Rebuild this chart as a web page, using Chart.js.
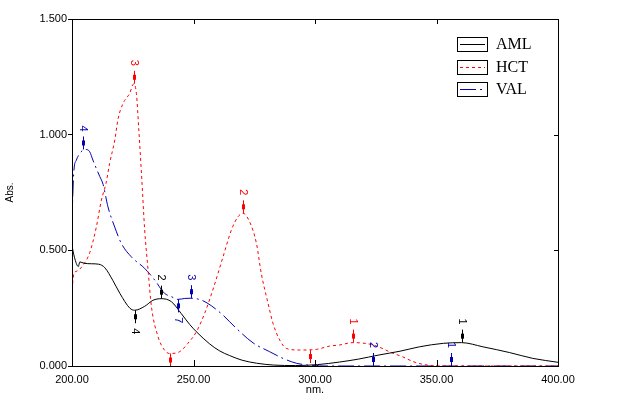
<!DOCTYPE html>
<html>
<head>
<meta charset="utf-8">
<script src="https://cdn.jsdelivr.net/npm/chart.js@4"></script>
<style>
  html, body { margin: 0; padding: 0; background: #fff; }
  #wrap { width: 627px; height: 399px; }
</style>
</head>
<body>
<div id="wrap"><canvas id="chart"></canvas></div>
<script>
// axis ranges
const nmMin = 200, nmMax = 400, nmStep = 50;
const absMin = 0, absMax = 1.5, absStep = 0.5;

// AML (black, solid)
const amlNm = [200, 201, 202.6, 203.2, 205, 208, 211, 213.5, 216.8, 219.7, 223.8, 225.8, 229.9, 233.3, 236.8,
  240.9, 245, 248.4, 251.2, 256.7, 260.8, 264.9, 270, 276, 283, 292, 301, 310, 318, 326, 335, 343, 352.8,
  360.3, 369.1, 380.1, 389.6, 400];
const amlAbs = [0.52, 0.47, 0.43, 0.45, 0.444, 0.442, 0.44, 0.425, 0.37, 0.314, 0.25, 0.241, 0.258, 0.284, 0.291,
  0.278, 0.226, 0.18, 0.148, 0.095, 0.065, 0.045, 0.025, 0.012, 0.004, 0.002, 0.006, 0.017, 0.03, 0.047, 0.064, 0.083, 0.098,
  0.101, 0.083, 0.058, 0.033, 0.016];

// HCT (red, dotted)
const hctNm = [200, 200.8, 202, 204.5, 207.3, 210, 212.1, 214, 215.5, 217.6, 219, 221, 223.7, 225.4, 226.5,
  227.5, 228.6, 229.9, 231.3, 232.7, 235.4, 238.1, 240.2, 244.3, 247.7, 251.2, 254.6, 258.3, 262.1, 265.6,
  268.3, 270.4, 273.1, 275.9, 277.9, 280.7, 282.7, 285.5, 288.2, 293.7, 300.6, 306, 310.2, 315.6, 323.9,
  332.1, 336, 340.4, 345, 352, 400];
const hctAbs = [0.33, 0.40, 0.41, 0.435, 0.49, 0.60, 0.717, 0.79, 0.876, 0.977, 1.07, 1.135, 1.178, 1.22, 1.178,
  1.02, 0.83, 0.59, 0.415, 0.256, 0.127, 0.068, 0.054, 0.062, 0.098, 0.148, 0.228, 0.34, 0.47, 0.588,
  0.645, 0.66, 0.623, 0.53, 0.40, 0.27, 0.185, 0.112, 0.076, 0.069, 0.072, 0.086, 0.091, 0.101, 0.091,
  0.055, 0.04, 0.019, 0.006, 0, 0];

// VAL (blue, long dash)
const valNm = [200, 200.4, 200.8, 201.8, 203.2, 204.5, 205.5, 207.3, 208.6, 210, 211.4, 212.8, 214.8, 217.6,
  220.3, 224.4, 229.9, 234, 238.1, 240.9, 243.6, 246.4, 249, 251.5, 253.3, 257.4, 262.1, 267.6, 274.5,
  281.3, 286.8, 292.3, 297.8, 305, 400];
const valAbs = [0.62, 0.76, 0.847, 0.89, 0.919, 0.933, 0.936, 0.926, 0.89, 0.854, 0.82, 0.785, 0.688, 0.60,
  0.53, 0.472, 0.422, 0.372, 0.314, 0.30, 0.288, 0.292, 0.293, 0.29, 0.285, 0.26, 0.22, 0.163, 0.10,
  0.062, 0.033, 0.012, 0.003, 0, 0];

// peak / valley picks: [nm, abs, label, direction]
const amlPicks = [[360.3, 0.101, '1', 'up'], [236.8, 0.291, '2', 'up'], [225.8, 0.241, '4', 'down'], [301, 0.004, '', 'down']];
const hctPicks = [[225.4, 1.22, '3', 'up'], [270.4, 0.66, '2', 'up'], [315.6, 0.101, '1', 'up'],
  [240.2, 0.054, '', 'down'], [298, 0.069, '', 'down']];
const valPicks = [[204.5, 0.936, '4', 'up'], [249, 0.293, '3', 'up'], [243.6, 0.288, '7', 'down'],
  [324, 0, '2', 'up'], [356, 0, '1', 'up']];

const pairs = (xs, ys) => xs.map((x, i) => ({ x, y: ys[i] }));

const frame = {
  id: 'frame',
  afterDatasetsDraw(chart) {
    const { ctx, chartArea: { left, top, right, bottom }, scales: { x, y } } = chart;
    ctx.save();
    ctx.strokeStyle = '#000';
    ctx.lineWidth = 1;
    ctx.strokeRect(left + 0.5, top + 0.5, right - left, bottom - top);
    ctx.beginPath();
    for (let v = nmMin + nmStep; v < nmMax; v += nmStep) {
      const px = Math.round(x.getPixelForValue(v)) + 0.5;
      ctx.moveTo(px, top); ctx.lineTo(px, top + 5);
      ctx.moveTo(px, bottom); ctx.lineTo(px, bottom - 6);
    }
    for (let v = absMin + absStep; v < absMax; v += absStep) {
      const py = Math.round(y.getPixelForValue(v)) + 0.5;
      ctx.moveTo(right, py); ctx.lineTo(right - 4, py);
    }
    ctx.stroke();
    ctx.restore();
  },
};

const picks = {
  id: 'picks',
  afterDatasetsDraw(chart) {
    const { ctx, chartArea: { left, top, right, bottom }, scales: { x, y } } = chart;
    ctx.save();
    ctx.beginPath();
    ctx.rect(left, top, right - left, bottom - top);
    ctx.clip();
    ctx.font = '11px "Liberation Sans", Arial, sans-serif';
    ctx.textAlign = 'center';
    ctx.textBaseline = 'middle';
    chart.data.datasets.forEach((ds) => {
      ctx.strokeStyle = ds.borderColor;
      ctx.fillStyle = ds.borderColor;
      ctx.lineWidth = 1;
      ds.picks.forEach(([nm, abs, label, dir]) => {
        const px = Math.round(x.getPixelForValue(nm)) + 0.5;
        const py = y.getPixelForValue(abs);
        const s = dir === 'up' ? -1 : 1;
        ctx.beginPath();
        ctx.moveTo(px, py);
        ctx.lineTo(px, py + s * 13);
        ctx.stroke();
        ctx.fillRect(px - 1.5, dir === 'up' ? py - 9 : py + 4, 3, 5);
        if (label) {
          ctx.save();
          ctx.translate(px, py + s * 21);
          ctx.rotate(Math.PI / 2);
          ctx.fillText(label, 0, 0);
          ctx.restore();
        }
      });
    });
    ctx.restore();
  },
};

const boxLegend = {
  id: 'boxLegend',
  afterDraw(chart) {
    const { ctx } = chart;
    ctx.save();
    chart.data.datasets.forEach((ds, i) => {
      const cy = 44 + i * 22.5;
      ctx.setLineDash([]);
      ctx.strokeStyle = '#000';
      ctx.lineWidth = 1;
      ctx.strokeRect(457.5, Math.round(cy - 7) + 0.5, 30, 14);
      ctx.strokeStyle = ds.borderColor;
      ctx.setLineDash(ds.borderDash || []);
      ctx.beginPath();
      ctx.moveTo(460, Math.round(cy) + 0.5);
      ctx.lineTo(485, Math.round(cy) + 0.5);
      ctx.stroke();
      ctx.fillStyle = '#000';
      ctx.font = '16px "Liberation Serif", "Times New Roman", serif';
      ctx.textBaseline = 'middle';
      ctx.fillText(ds.label, 496, cy + 1);
    });
    ctx.restore();
  },
};

Chart.defaults.font.family = '"Liberation Sans", Arial, sans-serif';
Chart.defaults.font.size = 11;
Chart.defaults.color = '#000';

new Chart(document.getElementById('chart'), {
  type: 'line',
  data: {
    datasets: [
      { label: 'AML', data: pairs(amlNm, amlAbs), picks: amlPicks, borderColor: '#000000', borderWidth: 1 },
      { label: 'HCT', data: pairs(hctNm, hctAbs), picks: hctPicks, borderColor: '#ff0000', borderWidth: 1, borderDash: [3, 3] },
      { label: 'VAL', data: pairs(valNm, valAbs), picks: valPicks, borderColor: '#0000b4', borderWidth: 1, borderDash: [16, 4, 2, 4] },
    ],
  },
  options: {
    animation: false,
    responsive: true,
    maintainAspectRatio: false,
    events: [],
    layout: { padding: { top: 19, right: 69, left: 0, bottom: 0 } },
    elements: {
      point: { radius: 0 },
      line: { tension: 0.3, cubicInterpolationMode: 'monotone', fill: false },
    },
    scales: {
      x: {
        type: 'linear',
        min: nmMin,
        max: nmMax,
        ticks: { stepSize: nmStep, padding: 7, maxRotation: 0, callback: (v) => v.toFixed(2) },
        grid: { display: false, drawTicks: false },
        border: { display: false },
        title: { display: true, text: 'nm.', font: { size: 11 }, padding: { top: 0, bottom: 2 } },
        afterFit: (scale) => { scale.height = 33; },
      },
      y: {
        min: absMin,
        max: absMax,
        ticks: { stepSize: absStep, padding: 1, callback: (v) => v.toFixed(3) },
        grid: { drawOnChartArea: false, tickLength: 4, color: '#000' },
        border: { display: false },
        title: { display: true, text: 'Abs.', font: { size: 10 }, padding: { top: 4, bottom: 0 } },
        afterFit: (scale) => { scale.width = 72; },
      },
    },
    plugins: {
      legend: { display: false },
      tooltip: { enabled: false },
    },
  },
  plugins: [frame, picks, boxLegend],
});
</script>
</body>
</html>
